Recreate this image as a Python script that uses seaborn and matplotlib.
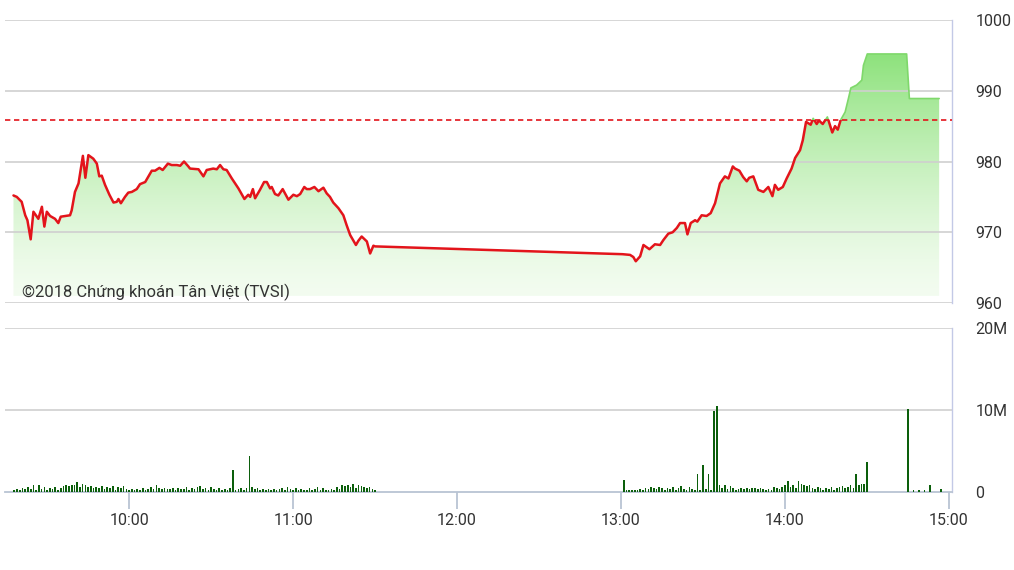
import numpy as np
import matplotlib
matplotlib.use("Agg")
import matplotlib.pyplot as plt
import seaborn as sns
from matplotlib.patches import Rectangle

# ---------------- data (time = minutes after 09:00) ----------------
price_time = [17.7, 18.9, 20.7, 22.0, 22.8, 24.0, 25.0, 26.8, 28.1, 29.0, 29.9, 31.1, 32.9, 34.1,
              35.0, 36.6, 38.4, 39.0, 40.2, 41.5, 43.1, 44.0, 45.1, 46.9, 48.2, 49.1, 50.0, 51.2,
              52.8, 54.3, 55.5, 56.1, 57.0, 58.5, 59.7, 61.0, 62.8, 64.0, 65.9, 67.1, 68.3, 69.5,
              71.1, 72.3, 74.2, 75.6, 77.5, 78.7, 80.1, 81.7, 82.3, 85.4, 87.2, 88.4, 90.8, 92.1,
              93.3, 94.5, 95.7, 97.6, 100.0, 102.2, 103.6, 104.3, 105.3, 106.1, 107.9, 109.4,
              110.4, 111.6, 112.2, 113.4, 114.6, 116.2, 118.3, 120.1, 121.4, 122.6, 124.1, 125.0,
              126.2, 127.8, 129.3, 131.1, 132.3, 133.5, 134.7, 136.6, 138.4, 139.6, 140.9, 143.0,
              143.9, 145.1, 147.0, 148.2, 149.4, 150.0,
              240.5, 243.3, 244.5, 245.4, 247.0, 248.2, 250.4, 252.4, 254.3, 255.5, 257.3, 258.9,
              260.4, 261.6, 263.4, 264.3, 265.5, 267.1, 267.9, 269.5, 271.3, 272.8, 274.4, 276.2,
              278.0, 279.3, 280.9, 281.7, 283.3, 284.7, 286.0, 286.9, 288.4, 290.2, 292.1, 293.9,
              295.4, 296.3, 297.5, 299.2, 300.6, 302.4, 303.7, 305.5, 306.5, 307.7, 309.4, 310.3,
              311.6, 312.4, 313.8, 315.5, 317.3, 318.3, 319.3, 320.4, 322.0, 323.2, 324.1, 326.2,
              328.1, 328.7, 330.1, 344.5, 345.5, 356.4]
price_value = [975.2, 975.0, 974.3, 972.4, 971.7, 969.0, 972.9, 971.9, 973.6, 970.8, 972.9, 972.3,
               971.9, 971.3, 972.2, 972.3, 972.4, 973.1, 975.7, 976.9, 980.8, 977.7, 980.9, 980.4,
               979.7, 977.9, 978.0, 976.7, 975.3, 974.2, 974.3, 974.7, 974.1, 975.0, 975.6, 975.7,
               976.1, 976.8, 977.1, 977.9, 978.7, 978.7, 979.1, 978.8, 979.7, 979.5, 979.5, 979.4,
               980.0, 979.3, 979.0, 978.9, 977.9, 978.8, 979.0, 978.9, 979.5, 978.9, 978.8, 977.6,
               976.2, 974.7, 975.3, 975.0, 976.1, 974.8, 976.0, 977.1, 977.1, 976.2, 976.4, 975.4,
               975.2, 976.1, 974.6, 975.3, 975.1, 975.4, 976.4, 976.1, 976.1, 976.4, 975.8, 976.3,
               975.5, 975.0, 974.2, 973.4, 972.4, 971.0, 969.6, 968.2, 968.8, 969.4, 968.7, 967.0,
               968.1, 968.0,
               966.9, 966.8, 966.5, 965.9, 966.6, 968.2, 967.6, 968.3, 968.2, 968.9, 969.8, 970.0,
               970.6, 971.3, 971.3, 969.7, 971.3, 971.7, 971.5, 972.4, 972.3, 972.7, 974.1, 976.9,
               977.9, 977.6, 979.3, 979.0, 978.7, 977.8, 977.2, 977.7, 977.9, 976.0, 975.7, 976.4,
               975.1, 976.7, 976.0, 976.4, 977.6, 979.0, 980.5, 981.6, 983.0, 985.6, 985.2, 986.1,
               985.3, 985.8, 985.3, 986.3, 984.1, 985.0, 984.5, 985.9, 987.0, 988.9, 990.4, 990.8,
               991.5, 993.6, 995.2, 995.2, 988.9, 988.9]
reference_price = 985.8

vol_morning_start = 18
vol_morning = [0.3, 0.4, 0.3, 0.5, 0.4, 0.6, 0.4, 0.8, 0.3, 0.9,
               0.4, 0.6, 0.3, 0.5, 0.4, 0.6, 0.3, 0.5, 0.7, 0.8,
               0.7, 0.8, 0.9, 1.2, 0.6, 1.0, 0.8, 0.6, 0.7, 0.5,
               0.6, 0.5, 0.7, 0.4, 0.6, 0.5, 0.7, 0.3, 0.6, 0.5,
               0.7, 0.4, 0.3, 0.4, 0.2, 0.4, 0.3, 0.5, 0.2, 0.4,
               0.6, 0.4, 0.9, 0.5, 0.4, 0.5, 0.4, 0.4, 0.5, 0.3,
               0.5, 0.4, 0.4, 0.6, 0.3, 0.5, 0.4, 0.6, 0.7, 0.4,
               0.5, 0.3, 0.6, 0.4, 0.3, 0.5, 0.2, 0.4, 0.3, 0.5,
               2.7, 0.3, 0.4, 0.5, 0.3, 0.5, 4.4, 0.6, 0.4, 0.5,
               0.3, 0.4, 0.3, 0.4, 0.3, 0.4, 0.3, 0.4, 0.5, 0.3,
               0.6, 0.4, 0.3, 0.5, 0.3, 0.4, 0.2, 0.3, 0.5, 0.3,
               0.4, 0.6, 0.3, 0.5, 0.3, 0.2, 0.4, 0.3, 0.6, 0.4,
               0.8, 0.7, 0.9, 0.6, 1.0, 0.5, 0.9, 0.7, 0.6, 0.5,
               0.6, 0.4, 0.3]
vol_afternoon_start = 241
vol_afternoon = [1.5, 0.3, 0.2, 0.3, 0.2, 0.3, 0.4, 0.3, 0.5, 0.4,
                 0.6, 0.5, 0.4, 0.6, 0.5, 0.3, 0.5, 0.4, 0.6, 0.3,
                 0.5, 0.7, 0.4, 0.3, 0.6, 0.4, 0.3, 2.2, 0.3, 3.3,
                 0.4, 2.2, 0.3, 9.9, 10.5, 0.8, 0.5, 0.9, 0.4, 0.7,
                 0.5, 0.3, 0.4, 0.5, 0.4, 0.5, 0.4, 0.5, 0.5, 0.4,
                 0.5, 0.4, 0.3, 0.4, 0.3, 0.6, 0.5, 0.4, 0.6, 0.9,
                 1.4, 0.6, 0.8, 0.5, 1.4, 1.0, 0.9, 0.7, 0.8, 0.5,
                 0.4, 0.6, 0.5, 0.3, 0.5, 0.4, 0.6, 0.3, 0.5, 0.6,
                 0.7, 0.5, 0.6, 0.8, 0.5, 2.2, 0.9, 1.0, 1.0, 3.7]
vol_close_time = [345, 347, 349, 351, 353, 357]
vol_close = [10.1, 0.2, 0.2, 0.3, 0.9, 0.4]

hour_ticks = [60, 120, 180, 240, 300, 360]
hour_labels = ["10:00", "11:00", "12:00", "13:00", "14:00", "15:00"]
price_ticks = [960, 970, 980, 990, 1000]
vol_ticks = [0, 10, 20]
vol_labels = ["0", "10M", "20M"]
copyright_text = "©2018 Chứng khoán Tân Việt (TVSI)"

# ---------------- style ----------------
sns.set_theme(style="white")
plt.rcParams["font.family"] = ["Roboto", "DejaVu Sans"]

W, H = 1014, 570
fig = plt.figure(figsize=(W / 100, H / 100), dpi=100)
fig.patch.set_facecolor("white")

def px_axes(l, t, r, b):
    return fig.add_axes([l / W, 1 - b / H, (r - l) / W, (b - t) / H])

ax = px_axes(5, 20, 952, 303)
axv = px_axes(5, 328, 952, 492)

xmin, xmax = 14.6, 361.1
grid_c = "#cfcfcf"
spine_c = "#c3c9e6"
axis_c = "#b9c4d3"
txt_c = "#333333"

# ---------------- price panel ----------------
ax.set_xlim(xmin, xmax)
ax.set_ylim(960, 1000)
for v in price_ticks:
    ax.axhline(v, color=grid_c, lw=1.2, zorder=2)

fill_floor = 961
poly = ax.fill_between(price_time, price_value, fill_floor, facecolor="none",
                       edgecolor="none", zorder=1)
bottom_c = np.array([243, 252, 240]) / 255
top_c = np.array([122, 221, 102]) / 255
fr = np.linspace(0, 1, 256)[:, None] ** 1.35
grad = (bottom_c[None, :] * (1 - fr) + top_c[None, :] * fr)[:, None, :]
im = ax.imshow(grad, extent=[xmin, xmax, fill_floor, 1000], origin="lower",
               aspect="auto", zorder=1, interpolation="bilinear")
im.set_clip_path(poly.get_paths()[0], transform=ax.transData)
ax.set_xlim(xmin, xmax)
ax.set_ylim(960, 1000)

sns.lineplot(x=price_time, y=price_value, ax=ax, color="#e3141b", lw=1.8,
             zorder=4, sort=False, estimator=None)
red_line = ax.lines[-1]
red_line.set_clip_path(Rectangle((0, 900), 400, reference_price - 900,
                                 transform=ax.transData))
sns.lineplot(x=price_time, y=price_value, ax=ax, color="#7fd86b", lw=1.2,
             zorder=4, sort=False, estimator=None)
green_line = ax.lines[-1]
green_line.set_clip_path(Rectangle((0, reference_price), 400, 100,
                                   transform=ax.transData))

ax.axhline(reference_price, color="#e3141b", lw=1.2, ls=(0, (3.2, 2.2)), zorder=5)

ax.yaxis.tick_right()
ax.set_yticks(price_ticks)
ax.set_yticklabels([str(v) for v in price_ticks])
ax.tick_params(axis="y", length=0, pad=17, labelsize=11.5, labelcolor=txt_c)
ax.set_xticks([])
for s in ["left", "top", "bottom"]:
    ax.spines[s].set_visible(False)
ax.spines["right"].set_color(spine_c)
ax.spines["right"].set_linewidth(1.0)
ax.set_facecolor("none")

fig.text(22 / W, 1 - 297 / H, copyright_text, color=txt_c, fontsize=12,
         ha="left", va="baseline")

# ---------------- volume panel ----------------
axv.set_xlim(xmin, xmax)
axv.set_ylim(0, 20)
for v in vol_ticks[1:]:
    axv.axhline(v, color=grid_c, lw=1.2, zorder=1)

bar_c = "#0c5f0c"
t_am = np.arange(vol_morning_start, vol_morning_start + len(vol_morning))
t_pm = np.arange(vol_afternoon_start, vol_afternoon_start + len(vol_afternoon))
axv.bar(t_am, vol_morning, width=0.6, color=bar_c, zorder=3, linewidth=0)
axv.bar(t_pm, vol_afternoon, width=0.6, color=bar_c, zorder=3, linewidth=0)
axv.bar(vol_close_time, vol_close, width=0.6, color=bar_c, zorder=3, linewidth=0)

axv.yaxis.tick_right()
axv.set_yticks(vol_ticks)
axv.set_yticklabels(vol_labels)
axv.tick_params(axis="y", length=0, pad=17, labelsize=11.5, labelcolor=txt_c)
axv.set_xticks(hour_ticks)
axv.set_xticklabels(hour_labels)
axv.tick_params(axis="x", length=12, width=1.3, color=axis_c, pad=3,
                labelsize=11.5, labelcolor=txt_c, direction="out")
axv.xaxis.tick_bottom()
for s in ["left", "top"]:
    axv.spines[s].set_visible(False)
axv.spines["right"].set_color(spine_c)
axv.spines["right"].set_linewidth(1.0)
axv.spines["bottom"].set_color(axis_c)
axv.spines["bottom"].set_linewidth(1.3)
axv.set_facecolor("none")

fig.savefig("out.png", dpi=100, facecolor="white")
